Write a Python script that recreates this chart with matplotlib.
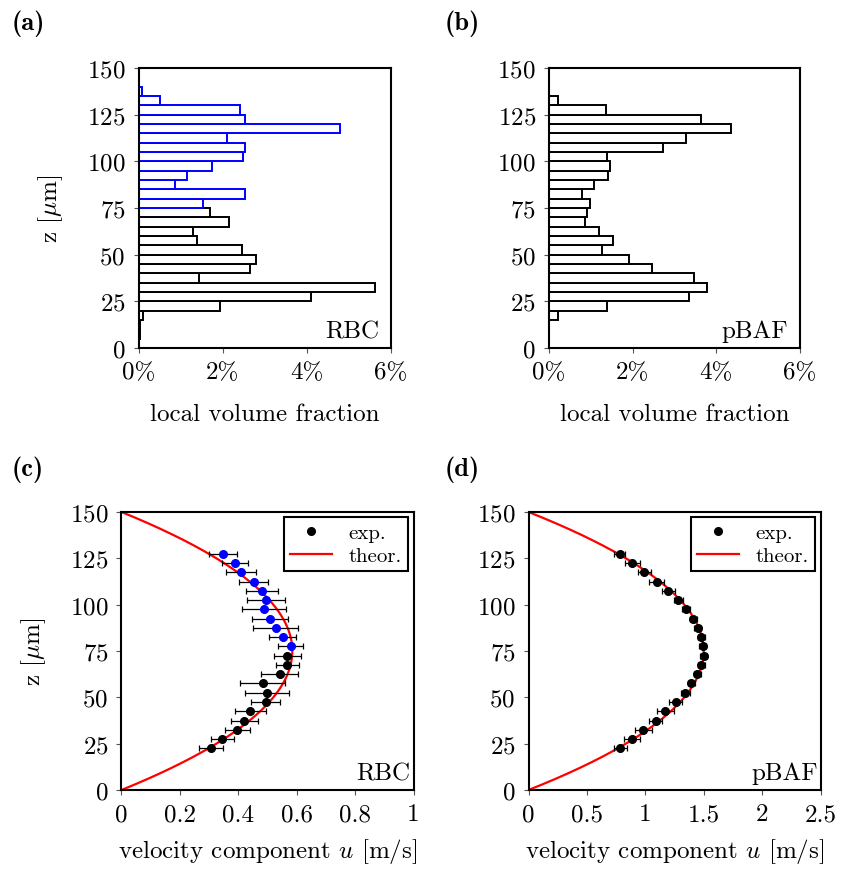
import numpy as np
import matplotlib
matplotlib.use('Agg')
import matplotlib.pyplot as plt
from matplotlib.lines import Line2D

plt.rcParams['font.family'] = ['cmr10', 'DejaVu Serif']
plt.rcParams['mathtext.fontset'] = 'cm'
plt.rcParams['axes.formatter.use_mathtext'] = True
plt.rcParams['axes.unicode_minus'] = False

# histogram bins (5 um wide, lower edges)
bin_lo = np.arange(0, 150, 5)

# local volume fraction [%] per bin, from z = 0 upwards
rbc_frac = [0.02, 0.03, 0.04, 0.10, 1.94, 4.11, 5.62, 1.43, 2.64, 2.80,
            2.46, 1.39, 1.29, 2.14, 1.71, 1.53, 2.53, 0.86, 1.16, 1.75,
            2.48, 2.53, 2.10, 4.79, 2.54, 2.42, 0.50, 0.09, 0.02, 0.02]
pbaf_frac = [0.0, 0.0, 0.0, 0.21, 1.40, 3.36, 3.78, 3.47, 2.46, 1.92,
             1.27, 1.54, 1.19, 0.86, 0.90, 0.98, 0.79, 1.07, 1.41, 1.45,
             1.38, 2.72, 3.29, 4.36, 3.64, 1.37, 0.21, 0.0, 0.0, 0.0]

# velocity profiles, z from top to bottom
z_meas = [127.5, 122.5, 117.5, 112.5, 107.5, 102.5, 97.5, 92.5, 87.5, 82.5, 77.5,
          72.5, 67.5, 62.5, 57.5, 52.5, 47.5, 42.5, 37.5, 32.5, 27.5, 22.5]
u_rbc = [0.348, 0.389, 0.410, 0.453, 0.482, 0.495, 0.489, 0.509, 0.528, 0.552, 0.579,
         0.568, 0.568, 0.542, 0.483, 0.498, 0.494, 0.441, 0.420, 0.397, 0.345, 0.307]
err_rbc = [0.047, 0.045, 0.051, 0.049, 0.054, 0.064, 0.076, 0.062, 0.076, 0.047, 0.044,
           0.047, 0.040, 0.064, 0.076, 0.076, 0.050, 0.054, 0.046, 0.044, 0.040, 0.041]
u_pbaf = [0.781, 0.889, 0.992, 1.097, 1.197, 1.283, 1.346, 1.411, 1.449, 1.477, 1.491,
          1.500, 1.477, 1.445, 1.394, 1.343, 1.260, 1.171, 1.089, 0.983, 0.886, 0.786]
err_pbaf = [0.047, 0.063, 0.058, 0.064, 0.053, 0.040, 0.035, 0.030, 0.030, 0.030, 0.030,
            0.030, 0.030, 0.030, 0.030, 0.036, 0.053, 0.071, 0.057, 0.071, 0.071, 0.056]

# theoretical parabolic profile parameters
channel_h = 150.0
umax_rbc = 0.585
umax_pbaf = 1.50

z_split = 75  # RBC: upper part drawn in blue
FS = 18

fig = plt.figure(figsize=(8.49, 8.70), dpi=100)
W, H = 849.0, 870.0

def add_ax(l, r, t, b):
    return fig.add_axes([l / W, 1 - b / H, (r - l) / W, (b - t) / H])

ax_a = add_ax(138.5, 391, 69, 349)
ax_b = add_ax(549, 799.5, 69, 349)
ax_c = add_ax(121.5, 413.5, 513, 791)
ax_d = add_ax(528.5, 820.5, 513, 791)

def style(ax):
    for s in ax.spines.values():
        s.set_linewidth(1.5)
    ax.tick_params(direction='out', length=3.5, width=0.8, color='#555555',
                   labelsize=FS, pad=6, top=False, right=False)
    ax.set_yticks([0, 25, 50, 75, 100, 125, 150])
    ax.set_ylim(0, 150)

def hist(ax, frac, name, split):
    cols = ['blue' if (split and lo >= z_split) else 'black' for lo in bin_lo]
    ax.barh(bin_lo + 2.5, frac, height=5, color='white', edgecolor=cols, linewidth=1.4)
    ax.set_xlim(0, 6)
    ax.set_xticks([0, 2, 4, 6])
    ax.set_xticklabels(['0%', '2%', '4%', '6%'])
    style(ax)
    ax.set_xlabel('local volume fraction', fontsize=FS, labelpad=14)
    ax.text(0.955, 0.02, name, transform=ax.transAxes, ha='right', va='bottom', fontsize=FS)

def profile(ax, u, err, umax, name, split, xmax, xticks, xlabels):
    z = np.linspace(0, channel_h, 300)
    ax.plot(umax * 4 * z * (channel_h - z) / channel_h ** 2, z, color='red', lw=1.6, zorder=2)
    for zi, ui, ei in zip(z_meas, u, err):
        c = 'blue' if (split and zi > z_split) else 'black'
        ax.errorbar(ui, zi, xerr=ei, fmt='o', color=c, ms=5.5, ecolor='black',
                    elinewidth=0.9, capsize=2.5, capthick=0.9, zorder=3)
    ax.set_xlim(0, xmax)
    ax.set_xticks(xticks)
    ax.set_xticklabels(xlabels)
    style(ax)
    ax.set_xlabel(r'velocity component $u$ [m/s]', fontsize=FS, labelpad=8)
    ax.text(0.99, 0.02, name, transform=ax.transAxes, ha='right', va='bottom', fontsize=FS)
    handles = [Line2D([], [], ls='none', marker='o', color='black', ms=5.5),
               Line2D([], [], color='red', lw=1.6)]
    leg = ax.legend(handles, ['exp.', 'theor.'], loc='upper right', fontsize=15,
                    fancybox=False, framealpha=1, edgecolor='black',
                    borderaxespad=0.25, handlelength=2.0, borderpad=0.3,
                    labelspacing=0.2)
    leg.get_frame().set_linewidth(1.5)

hist(ax_a, rbc_frac, 'RBC', True)
hist(ax_b, pbaf_frac, 'pBAF', False)
profile(ax_c, u_rbc, err_rbc, umax_rbc, 'RBC', True, 1.0,
        [0, 0.2, 0.4, 0.6, 0.8, 1.0], ['0', '0.2', '0.4', '0.6', '0.8', '1'])
profile(ax_d, u_pbaf, err_pbaf, umax_pbaf, 'pBAF', False, 2.5,
        [0, 0.5, 1.0, 1.5, 2.0, 2.5], ['0', '0.5', '1', '1.5', '2', '2.5'])

for ax in (ax_a, ax_c):
    ax.set_ylabel(r'z [$\mu$m]', fontsize=FS, labelpad=16)

for lab, x, y in [('(a)', 12, 30), ('(b)', 445, 30), ('(c)', 12, 476), ('(d)', 445, 476)]:
    fig.text(x / W, 1 - y / H, lab, fontsize=19, family='cmb10', ha='left', va='baseline')

fig.savefig('out.png', dpi=100)
